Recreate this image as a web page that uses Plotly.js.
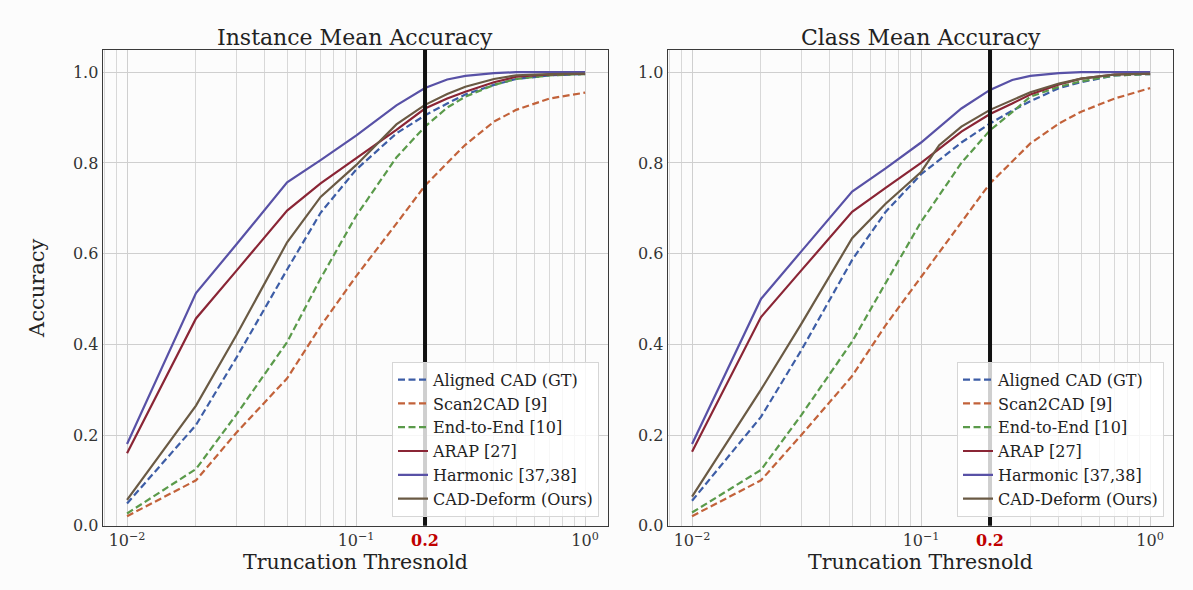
<!DOCTYPE html>
<html>
<head>
<meta charset="utf-8">
<script src="https://cdn.plot.ly/plotly-3.0.1.min.js"></script>
<style>
  html, body { margin: 0; padding: 0; background: #fcfcfc; }
  #chart { width: 1193px; height: 590px; }
</style>
</head>
<body>
<div id="chart"></div>
<script>
// ---------------- data ----------------
const thresholds = [0.01, 0.02, 0.03, 0.05, 0.07, 0.1, 0.15, 0.2, 0.25, 0.3, 0.4, 0.5, 0.7, 1.0];
const thresholdsCadClass = [0.01, 0.02, 0.03, 0.05, 0.07, 0.1, 0.12, 0.15, 0.2, 0.25, 0.3, 0.4, 0.5, 0.7, 1.0];

const seriesNames = ["Aligned CAD (GT)", "Scan2CAD [9]", "End-to-End [10]", "ARAP [27]", "Harmonic [37,38]", "CAD-Deform (Ours)"];

// Instance mean accuracy
const instAligned  = [0.049, 0.222, 0.370, 0.565, 0.690, 0.785, 0.865, 0.905, 0.931, 0.951, 0.972, 0.985, 0.993, 0.996];
const instScan2CAD = [0.021, 0.100, 0.205, 0.325, 0.440, 0.550, 0.666, 0.750, 0.800, 0.840, 0.891, 0.917, 0.942, 0.955];
const instE2E      = [0.027, 0.125, 0.245, 0.405, 0.545, 0.683, 0.812, 0.880, 0.922, 0.946, 0.972, 0.985, 0.993, 0.996];
const instARAP     = [0.160, 0.457, 0.562, 0.695, 0.755, 0.810, 0.873, 0.920, 0.942, 0.957, 0.978, 0.990, 0.995, 0.997];
const instHarmonic = [0.180, 0.513, 0.620, 0.757, 0.806, 0.860, 0.927, 0.965, 0.984, 0.992, 0.998, 1.000, 1.000, 1.000];
const instCAD      = [0.057, 0.265, 0.420, 0.625, 0.725, 0.795, 0.885, 0.928, 0.952, 0.968, 0.985, 0.993, 0.996, 0.997];

// Class mean accuracy
const clsAligned  = [0.055, 0.240, 0.387, 0.586, 0.692, 0.775, 0.845, 0.887, 0.915, 0.936, 0.965, 0.978, 0.993, 0.996];
const clsScan2CAD = [0.021, 0.100, 0.200, 0.330, 0.442, 0.549, 0.670, 0.755, 0.803, 0.843, 0.887, 0.913, 0.942, 0.965];
const clsE2E      = [0.029, 0.123, 0.244, 0.406, 0.535, 0.670, 0.800, 0.872, 0.912, 0.946, 0.968, 0.980, 0.993, 0.996];
const clsARAP     = [0.163, 0.460, 0.563, 0.692, 0.745, 0.800, 0.869, 0.908, 0.931, 0.951, 0.973, 0.986, 0.995, 0.997];
const clsHarmonic = [0.180, 0.500, 0.605, 0.737, 0.788, 0.845, 0.920, 0.961, 0.983, 0.992, 0.998, 1.000, 1.000, 1.000];
const clsCAD      = [0.064, 0.300, 0.445, 0.634, 0.710, 0.780, 0.839, 0.880, 0.917, 0.939, 0.956, 0.975, 0.986, 0.995, 0.997];

const markedThreshold = 0.2;
const xTickVals = [0.01, 0.1, 0.2, 1];
const xTickText = ["10<sup>\u22122</sup>", "10<sup>\u22121</sup>", "<b><span style=\"color:#c00000\">0.2</span></b>", "10<sup>0</sup>"];

// ---------------- styles ----------------
const colors = ["#3d5da6", "#c2623a", "#5a9a4a", "#8a2535", "#5851a6", "#6a5a44"];
const dashes = ["7px,3.5px", "7px,3.5px", "7px,3.5px", "solid", "solid", "solid"];
const FONT = "DejaVu Serif, serif";

function makeTraces(ys, xs, xa, ya, legendId) {
  return ys.map((y, i) => ({
    type: "scatter", mode: "lines",
    x: xs[i], y: y, name: seriesNames[i],
    xaxis: xa, yaxis: ya, legend: legendId,
    line: { color: colors[i], width: 2.2, dash: dashes[i] }
  }));
}

const instYs = [instAligned, instScan2CAD, instE2E, instARAP, instHarmonic, instCAD];
const clsYs  = [clsAligned, clsScan2CAD, clsE2E, clsARAP, clsHarmonic, clsCAD];
const instXs = instYs.map(() => thresholds);
const clsXs  = clsYs.map((_, i) => i === 5 ? thresholdsCadClass : thresholds);

const traces = [
  ...makeTraces(instYs, instXs, "x", "y", "legend"),
  ...makeTraces(clsYs, clsXs, "x2", "y2", "legend2")
];

// minor grid positions (2..9 x 10^k)
const minorVals = [];
for (let k = -3; k <= 0; k++) for (let d = 2; d <= 9; d++) minorVals.push(d * Math.pow(10, k));

const W = 1193, H = 590;
const xDom1 = [103 / W, 608 / W];
const xDom2 = [668 / W, 1173 / W];
const yDom = [1 - 525.7 / H, 1 - 50 / H];

function xAxis(domain, anchor) {
  return {
    type: "log", domain: domain, anchor: anchor,
    range: [-2.105, 0.1],
    tickmode: "array", tickvals: xTickVals, ticktext: xTickText,
    tickfont: { family: FONT, size: 16, color: "#333" },
    ticks: "", showgrid: true, gridcolor: "#cfcfcf", gridwidth: 1,
    minor: { tickmode: "array", tickvals: minorVals, showgrid: true, gridcolor: "#d8d8d8", gridwidth: 1, ticks: "" },
    showline: true, mirror: true, linecolor: "#3a3a3a", linewidth: 1.4,
    zeroline: false,
    title: { text: "Truncation Thresnold", font: { family: FONT, size: 20.5, color: "#222" }, standoff: 5 }
  };
}
function yAxis(anchor, withTitle) {
  const a = {
    domain: yDom, anchor: anchor, range: [0, 1.049],
    tickmode: "linear", tick0: 0, dtick: 0.2, tickformat: ".1f",
    tickfont: { family: FONT, size: 16, color: "#333" },
    ticks: "", showgrid: true, gridcolor: "#cfcfcf", gridwidth: 1,
    showline: true, mirror: true, linecolor: "#3a3a3a", linewidth: 1.4,
    zeroline: false
  };
  if (withTitle) a.title = { text: "Accuracy", font: { family: FONT, size: 21, color: "#222" }, standoff: 22 };
  return a;
}

const legendCommon = {
  font: { family: FONT, size: 16, color: "#222" },
  bgcolor: "rgba(255,255,255,0.8)", bordercolor: "#d6d6d6", borderwidth: 1,
  xanchor: "right", yanchor: "bottom", tracegroupgap: 0, itemwidth: 30
};

const layout = {
  width: W, height: H,
  margin: { l: 0, r: 0, t: 0, b: 0 },
  paper_bgcolor: "#fcfcfc", plot_bgcolor: "#fcfcfc",
  showlegend: true,
  xaxis: xAxis(xDom1, "y"),
  yaxis: yAxis("x", true),
  xaxis2: xAxis(xDom2, "y2"),
  yaxis2: yAxis("x2", false),
  legend: Object.assign({}, legendCommon, { x: 599 / W, y: (H - 516.7) / H }),
  legend2: Object.assign({}, legendCommon, { x: 1164 / W, y: (H - 516.7) / H }),
  shapes: [
    { type: "line", xref: "x", yref: "y domain", x0: markedThreshold, x1: markedThreshold, y0: 0, y1: 1, line: { color: "#111", width: 4 }, layer: "above" },
    { type: "line", xref: "x2", yref: "y2 domain", x0: markedThreshold, x1: markedThreshold, y0: 0, y1: 1, line: { color: "#111", width: 4 }, layer: "above" }
  ],
  annotations: [
    { text: "Instance Mean Accuracy", xref: "paper", yref: "paper", x: (xDom1[0] + xDom1[1]) / 2, y: yDom[1], xanchor: "center", yanchor: "bottom", yshift: -2, showarrow: false, font: { family: FONT, size: 22, color: "#222" } },
    { text: "Class Mean Accuracy", xref: "paper", yref: "paper", x: (xDom2[0] + xDom2[1]) / 2, y: yDom[1], xanchor: "center", yanchor: "bottom", yshift: -2, showarrow: false, font: { family: FONT, size: 22, color: "#222" } }
  ]
};

Plotly.newPlot("chart", traces, layout, { displayModeBar: false, staticPlot: true });
</script>
</body>
</html>
